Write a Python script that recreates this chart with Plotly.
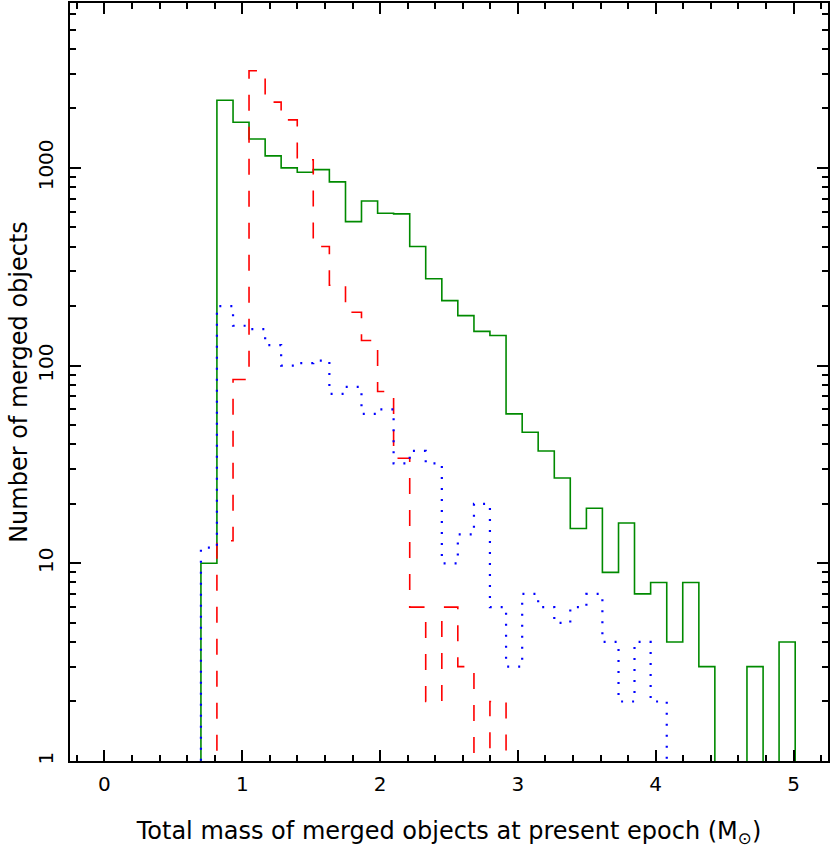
import plotly.graph_objects as go
import numpy as np

# bin edges of the histograms (total mass, Msun)
bin_edges = [0.700, 0.816, 0.933, 1.049, 1.166, 1.282, 1.399, 1.515, 1.632, 1.749,
             1.865, 1.982, 2.098, 2.215, 2.331, 2.448, 2.564, 2.681, 2.797, 2.914,
             3.031, 3.147, 3.264, 3.380, 3.497, 3.613, 3.730, 3.846, 3.963, 4.080,
             4.196, 4.313, 4.429, 4.546, 4.662, 4.779, 4.895, 5.012]

# counts per bin
green_counts = [10, 2200, 1700, 1400, 1150, 1000, 950, 980, 850, 535,
                680, 590, 585, 400, 275, 213, 179, 149, 142, 57,
                46, 37, 27, 15, 19, 9, 16, 7, 8, 4,
                8, 3, 0, 0, 3, 0, 4]
red_counts = [0, 13, 85, 3100, 2150, 1750, 1100, 400, 255, 186,
              134, 74, 34, 6, 2, 6, 3, 0, 2, 0,
              0, 0, 0, 0, 0, 0, 0, 0, 0, 0,
              0, 0, 0, 0, 0, 0, 0]
blue_counts = [12, 200, 159, 153, 127, 100, 103, 106, 72, 78,
               57, 60, 32, 37, 32, 10, 14, 20, 6, 3,
               7, 6, 5, 6, 7, 4, 2, 4, 2, 0,
               0, 0, 0, 0, 0, 0, 0]

FLOOR = 0.1  # empty bins drop below the log axis


def step_xy(counts):
    # outline of a histogram drawn with an 'hv' line
    c = np.asarray(counts, dtype=float)
    c = np.where(c > 0, c, FLOOR)
    x = [bin_edges[0]] + list(bin_edges)
    y = [FLOOR] + list(c) + [FLOOR]
    return x, y


fig = go.Figure()

for counts, color, dash, width in [
    (green_counts, "#008a00", "solid", 1.6),
    (red_counts, "#ff0000", "16px,16px", 1.6),
    (blue_counts, "#0000ff", "2px,9px", 2.2),
]:
    x, y = step_xy(counts)
    fig.add_trace(go.Scatter(
        x=x, y=y,
        mode="lines",
        line=dict(shape="hv", color=color, dash=dash, width=width),
        showlegend=False,
        hoverinfo="skip",
    ))

font_family = "DejaVu Sans, Verdana, sans-serif"

fig.update_layout(
    width=830, height=848,
    margin=dict(l=70, r=2, t=3, b=87),
    paper_bgcolor="white",
    plot_bgcolor="white",
    font=dict(family=font_family, size=20, color="black"),
    xaxis=dict(
        range=[-0.25, 5.25],
        automargin=False,
        tickmode="linear", tick0=0, dtick=1,
        ticks="inside", ticklen=11, tickwidth=1.5, tickcolor="black",
        minor=dict(ticks="inside", dtick=0.2, ticklen=6, tickwidth=1.5, tickcolor="black"),
        showline=True, linecolor="black", linewidth=2, mirror="allticks",
        showgrid=False, zeroline=False,
        tickfont=dict(size=20),
        ticklabelstandoff=4,
        title=dict(text="Total mass of merged objects at present epoch (M<sub>⊙</sub>)",
                   font=dict(size=24), standoff=28),
    ),
    yaxis=dict(
        type="log",
        range=[0, 3.834],
        automargin=False,
        tickvals=[1, 10, 100, 1000],
        ticktext=["1", "10", "100", "1000"],
        tickangle=-90,
        ticks="inside", ticklen=11, tickwidth=1.5, tickcolor="black",
        minor=dict(ticks="inside", dtick="D1", ticklen=6, tickwidth=1.5, tickcolor="black"),
        showline=True, linecolor="black", linewidth=2, mirror="allticks",
        showgrid=False, zeroline=False,
        tickfont=dict(size=20),
        ticklabelstandoff=7,
        title=dict(text="Number of merged objects", font=dict(size=24), standoff=0),
    ),
)

# page margin off so the figure sits at the window's corner
fig.write_html("out.html", config={"displayModeBar": False},
               post_script="document.body.style.margin='0';")
